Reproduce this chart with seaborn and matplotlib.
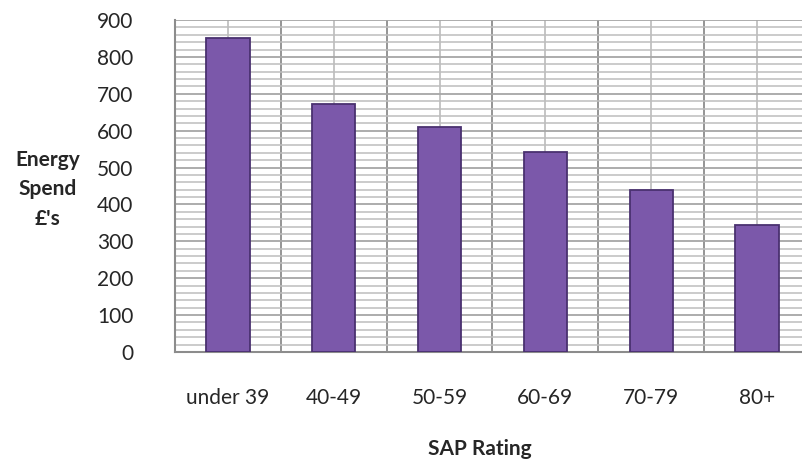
import matplotlib
matplotlib.use("Agg")
import matplotlib.pyplot as plt
import seaborn as sns
import pandas as pd
from matplotlib.ticker import MultipleLocator, FixedLocator

# SAP rating bands vs average energy spend
sap_bands = ["under 39", "40-49", "50-59", "60-69", "70-79", "80+"]
energy_spend = [852, 673, 610, 543, 440, 345]

df = pd.DataFrame({"SAP Rating": sap_bands, "Energy Spend": energy_spend})

sns.set_style("white")
plt.rcParams["font.family"] = ["Lato", "DejaVu Sans"]

fig = plt.figure(figsize=(8.03, 4.63), dpi=100)
ax = fig.add_axes([175 / 803, 111 / 463, 635 / 803, 332 / 463])

sns.barplot(data=df, x="SAP Rating", y="Energy Spend", color="#7B58AA",
            saturation=1, width=0.41, edgecolor="#4A3170", linewidth=1.3,
            ax=ax, zorder=3)

ax.set_ylim(0, 900)
ax.set_xlim(-0.5, len(sap_bands) - 0.5)
ax.yaxis.set_major_locator(MultipleLocator(100))
ax.yaxis.set_minor_locator(MultipleLocator(20))
ax.xaxis.set_minor_locator(FixedLocator([i - 0.5 for i in range(len(sap_bands) + 1)]))

ax.grid(which="major", axis="y", color="#a6a6a6", linewidth=1.3, zorder=0)
ax.grid(which="minor", axis="y", color="#bdbdbd", linewidth=1.1, zorder=0)
ax.grid(which="major", axis="x", color="#b5b5b5", linewidth=1.1, zorder=0)
ax.grid(which="minor", axis="x", color="#8c8c8c", linewidth=1.3, zorder=0)
ax.set_axisbelow(True)

for side in ["left", "bottom"]:
    ax.spines[side].set_color("#8c8c8c")
    ax.spines[side].set_linewidth(1.5)
ax.spines["top"].set_visible(False)
ax.spines["right"].set_visible(False)

ax.tick_params(axis="both", which="both", length=0, labelsize=15)
ax.tick_params(axis="y", pad=30)
ax.tick_params(axis="x", pad=26)

ax.set_xlabel("SAP Rating", fontsize=15, fontweight="bold")
ax.xaxis.set_label_coords(0.48, -0.262)
ax.set_ylabel("Energy\nSpend\n£'s", fontsize=15, fontweight="bold",
              rotation=0, ha="center", va="center", linespacing=1.6)
ax.yaxis.set_label_coords(-0.2, 0.49)

fig.savefig("out.png", dpi=100)
